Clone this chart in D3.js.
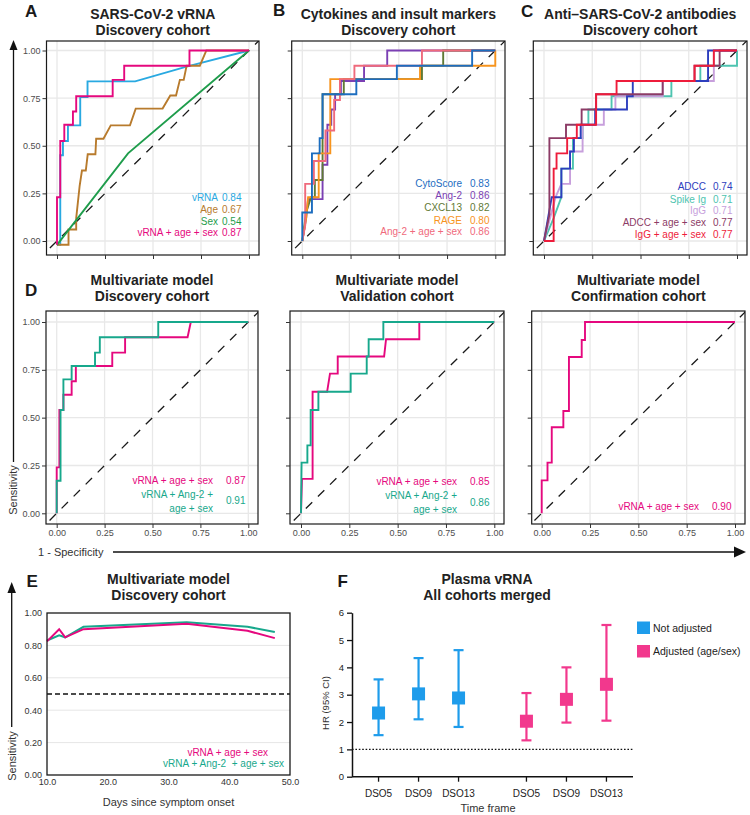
<!DOCTYPE html>
<html><head><meta charset="utf-8">
<script src="https://cdn.jsdelivr.net/npm/d3@7"></script>
<style>body{margin:0;background:#fff;} svg{display:block;font-family:"Liberation Sans",Arial,Helvetica,sans-serif;}</style>
</head><body><svg id="c" width="750" height="815"></svg>
<script>
// ---------------- DATA ----------------
const rocTicks = [0, 0.25, 0.5, 0.75, 1];

// Panel A: SARS-CoV-2 vRNA, discovery cohort  [1-specificity, sensitivity]
const aVRNA = [[0,-0.02],[0.017,-0.02],[0.017,0.45],[0.031,0.45],[0.031,0.525],[0.057,0.525],[0.057,0.607],[0.121,0.607],[0.121,0.756],[0.159,0.756],[0.159,0.838],[0.407,0.838],[0.675,0.915],[1,1]];
const aAge = [[0,-0.02],[0.06,-0.02],[0.06,0.06],[0.10,0.06],[0.10,0.12],[0.118,0.29],[0.13,0.37],[0.15,0.37],[0.16,0.455],[0.20,0.455],[0.204,0.537],[0.242,0.537],[0.28,0.607],[0.38,0.607],[0.41,0.695],[0.55,0.695],[0.59,0.764],[0.62,0.764],[0.64,0.846],[0.66,0.846],[0.675,0.92],[0.744,0.92],[0.778,1],[1,1]];
const aSex = [[0,-0.02],[0.37,0.46],[1,1]];
const aCombo = [[0,-0.02],[0,0.23],[0.017,0.23],[0.017,0.525],[0.038,0.525],[0.038,0.61],[0.083,0.61],[0.083,0.68],[0.10,0.68],[0.10,0.76],[0.29,0.76],[0.29,0.846],[0.35,0.846],[0.35,0.92],[0.69,0.92],[0.69,1],[1,1]];
const aLabels = ["vRNA", "Age", "Sex", "vRNA + age + sex"];
const aAUC = ["0.84", "0.67", "0.54", "0.87"];

// Panel B: cytokines and insult markers
const bCyto = [[0,0],[0,0.15],[0.05,0.15],[0.05,0.46],[0.09,0.46],[0.09,0.54],[0.105,0.54],[0.105,0.77],[0.28,0.77],[0.28,0.85],[0.49,0.85],[0.49,0.92],[0.88,0.92],[0.88,1],[1,1]];
const bAng2 = [[0,0],[0.02,0.12],[0.03,0.22],[0.105,0.22],[0.105,0.40],[0.13,0.40],[0.13,0.61],[0.15,0.61],[0.15,0.69],[0.17,0.69],[0.17,0.77],[0.2,0.77],[0.2,0.84],[0.32,0.84],[0.32,0.92],[0.44,0.92],[0.44,1],[1,1]];
const bCXCL13 = [[0,0],[0.02,0.15],[0.045,0.23],[0.065,0.23],[0.065,0.32],[0.105,0.32],[0.105,0.77],[0.215,0.77],[0.215,0.85],[0.62,0.85],[0.62,0.92],[0.73,0.92],[0.73,1],[1,1]];
const bRAGE = [[0,0],[0.02,0.12],[0.03,0.23],[0.085,0.23],[0.085,0.46],[0.145,0.46],[0.145,0.85],[0.61,0.85],[0.61,0.92],[1,0.92],[1,1]];
const bAngCombo = [[0,0],[0.015,0.08],[0.015,0.30],[0.06,0.30],[0.06,0.42],[0.12,0.42],[0.12,0.58],[0.165,0.58],[0.165,0.74],[0.195,0.74],[0.195,0.85],[0.27,0.85],[0.27,0.92],[0.62,0.92],[0.62,1],[1,1]];
const bLabels = ["CytoScore", "Ang-2", "CXCL13", "RAGE", "Ang-2 + age + sex"];
const bAUC = ["0.83", "0.86", "0.82", "0.80", "0.86"];

// Panel C: anti-SARS-CoV-2 antibodies
const cADCC = [[0,0],[0.04,0.23],[0.09,0.23],[0.09,0.38],[0.135,0.38],[0.135,0.47],[0.155,0.47],[0.155,0.54],[0.19,0.54],[0.19,0.61],[0.265,0.61],[0.265,0.69],[0.43,0.69],[0.43,0.76],[0.46,0.76],[0.46,0.84],[0.85,0.84],[0.85,1],[1,1]];
const cSpike = [[0,0],[0.05,0.12],[0.09,0.23],[0.09,0.38],[0.15,0.38],[0.15,0.54],[0.2,0.54],[0.2,0.61],[0.23,0.61],[0.23,0.69],[0.35,0.69],[0.35,0.76],[0.66,0.76],[0.66,0.84],[0.81,0.84],[0.81,0.92],[1,0.92],[1,1]];
const cIgG = [[0,0],[0.06,0.23],[0.09,0.30],[0.135,0.30],[0.135,0.47],[0.2,0.47],[0.2,0.61],[0.31,0.61],[0.31,0.69],[0.37,0.69],[0.37,0.76],[0.615,0.76],[0.615,0.84],[0.88,0.84],[0.88,1],[1,1]];
const cADCCcombo = [[0,0],[0.028,0.14],[0.028,0.54],[0.114,0.54],[0.114,0.61],[0.195,0.61],[0.195,0.69],[0.27,0.69],[0.27,0.77],[0.615,0.77],[0.615,0.84],[0.78,0.84],[0.78,0.92],[0.91,0.92],[0.91,1],[1,1]];
const cIgGcombo = [[0,0],[0.05,0],[0.05,0.38],[0.065,0.38],[0.065,0.46],[0.12,0.46],[0.12,0.54],[0.17,0.54],[0.17,0.61],[0.27,0.61],[0.27,0.77],[0.376,0.77],[0.376,0.84],[0.78,0.84],[0.78,0.92],[0.88,0.92],[0.88,1],[1,1]];
const cLabels = ["ADCC", "Spike Ig", "IgG", "ADCC + age + sex", "IgG + age + sex"];
const cAUC = ["0.74", "0.71", "0.71", "0.77", "0.77"];

// Panel D: multivariate, discovery / validation / confirmation
const dDiscCombo = [[0,0],[0,0.24],[0.014,0.24],[0.014,0.54],[0.035,0.54],[0.035,0.62],[0.078,0.62],[0.078,0.69],[0.10,0.69],[0.10,0.77],[0.29,0.77],[0.29,0.84],[0.357,0.84],[0.357,0.92],[0.683,0.92],[0.70,1],[1,1]];
const dDiscAng = [[0,0],[0,0.17],[0.02,0.17],[0.02,0.54],[0.035,0.54],[0.035,0.70],[0.078,0.70],[0.078,0.77],[0.20,0.77],[0.20,0.84],[0.225,0.84],[0.225,0.92],[0.53,0.92],[0.53,1],[1,1]];
const dValCombo = [[0,0],[0.005,0.18],[0.06,0.18],[0.06,0.635],[0.135,0.635],[0.15,0.73],[0.19,0.73],[0.19,0.82],[0.43,0.82],[0.44,0.91],[0.612,0.91],[0.612,1],[1,1]];
const dValAng = [[0,0],[0.003,0.265],[0.033,0.265],[0.033,0.355],[0.05,0.355],[0.05,0.54],[0.09,0.54],[0.09,0.635],[0.257,0.635],[0.257,0.73],[0.34,0.73],[0.34,0.82],[0.35,0.82],[0.35,0.91],[0.426,0.91],[0.426,1],[1,1]];
const dConfCombo = [[0,0],[0,0.172],[0.03,0.172],[0.03,0.265],[0.052,0.265],[0.052,0.45],[0.112,0.45],[0.112,0.535],[0.141,0.535],[0.141,0.817],[0.207,0.817],[0.207,0.906],[0.224,0.906],[0.224,1],[1,1]];
const dLabels = ["vRNA + age + sex", "vRNA + Ang-2 +\nage + sex"];
const dDiscAUC = ["0.87", "0.91"];
const dValAUC = ["0.85", "0.86"];
const dConfAUC = ["0.90"];

// Panel E: sensitivity over days since symptom onset
const eDays = [10, 12, 13, 16, 33, 43, 47.5];
const eCombo = [0.825, 0.90, 0.85, 0.90, 0.933, 0.89, 0.845];
const eAng = [0.83, 0.862, 0.85, 0.915, 0.943, 0.915, 0.883];
const eLabels = ["vRNA + age + sex", "vRNA + Ang-2  + age + sex"];
const eYTicks = [0, 0.2, 0.4, 0.6, 0.8, 1];
const eXTicks = [10, 20, 30, 40, 50];

// Panel F: hazard ratios
const fGroups = ["Not adjusted", "Adjusted (age/sex)"];
const fTimes = ["DSO5", "DSO9", "DSO13"];
const fHR_not = [2.33, 3.03, 2.88];
const fLo_not = [1.52, 2.10, 1.82];
const fHi_not = [3.56, 4.34, 4.63];
const fHR_adj = [2.03, 2.83, 3.38];
const fLo_adj = [1.33, 1.98, 2.05];
const fHi_adj = [3.06, 4.00, 5.55];
const fYTicks = [0, 1, 2, 3, 4, 5, 6];

// ---------------- COLOURS ----------------
const MAG = "#e5087e", TEAL = "#17a88c";
const aColors = ["#29a9e1", "#b87b2d", "#1f9d4c", MAG];
const bColors = ["#1c6dbf", "#7b3fb3", "#5f7a35", "#f7941d", "#ef6a7c"];
const cColors = ["#2d3ebe", "#4ec4b0", "#c79fdc", "#8c3b66", "#ee1c3b"];
const fColors = ["#1e9ceb", "#f2388d"];

// ---------------- DRAW ----------------
const svg = d3.select("#c");
svg.append("rect").attr("width", 750).attr("height", 815).attr("fill", "#fff");
const defs = svg.append("defs");

function txt(g, x, y, s, o = {}) {
  return g.append("text").attr("x", x).attr("y", y).text(s)
    .attr("font-size", o.size || 10).attr("fill", o.fill || "#222")
    .attr("font-weight", o.bold ? "bold" : null)
    .attr("text-anchor", o.anchor || "start")
    .style("white-space", "pre");
}

function rocPanel(p) {
  const x = d3.scaleLinear().domain([0, 1]).range([p.x0, p.x1]);
  const y = d3.scaleLinear().domain([0, 1]).range([p.y0, p.y1]);
  const [L, T, R, B] = p.frame;
  const g = svg.append("g");
  const id = "clip" + p.id;
  defs.append("clipPath").attr("id", id).append("rect").attr("x", L).attr("y", T).attr("width", R - L).attr("height", B - T);
  // grid
  g.selectAll(".gv").data(rocTicks).join("line").attr("x1", d => x(d)).attr("x2", d => x(d)).attr("y1", T).attr("y2", B)
    .attr("stroke", "#e8e8e8").attr("stroke-width", 1.3);
  g.selectAll(".gh").data(rocTicks).join("line").attr("y1", d => y(d)).attr("y2", d => y(d)).attr("x1", L).attr("x2", R)
    .attr("stroke", "#e8e8e8").attr("stroke-width", 1.3);
  // diagonal
  g.append("line").attr("clip-path", `url(#${id})`)
    .attr("x1", x(-0.1)).attr("y1", y(-0.1)).attr("x2", x(1.1)).attr("y2", y(1.1))
    .attr("stroke", "#1a1a1a").attr("stroke-width", 1.3).attr("stroke-dasharray", "9,8");
  const line = d3.line().x(d => x(d[0])).y(d => y(d[1]));
  p.series.forEach((s, i) => {
    g.append("path").attr("d", line(s)).attr("fill", "none").attr("stroke", p.colors[i])
      .attr("stroke-width", 1.9).attr("clip-path", `url(#${id})`);
  });
  g.append("rect").attr("x", L).attr("y", T).attr("width", R - L).attr("height", B - T)
    .attr("fill", "none").attr("stroke", "#1a1a1a").attr("stroke-width", 1.2);
  // axes
  const fmt = d3.format(".2f");
  const ya = d3.axisLeft(y).tickValues(rocTicks).tickSize(4).tickSizeOuter(0).tickPadding(2)
    .tickFormat(p.yLab ? fmt : () => "");
  const xa = d3.axisBottom(x).tickValues(rocTicks).tickSize(4).tickSizeOuter(0).tickPadding(2)
    .tickFormat(p.xLab ? fmt : () => "");
  [g.append("g").attr("transform", `translate(${L},0)`).call(ya),
   g.append("g").attr("transform", `translate(0,${B})`).call(xa)].forEach(a => {
    a.select(".domain").remove();
    a.selectAll("line").attr("stroke", "#333").attr("stroke-width", 1);
    a.selectAll("text").attr("font-size", 9).attr("fill", "#4d4d4d").attr("font-family", null);
  });
  // title
  const cx = (L + R) / 2;
  txt(g, cx, p.titleY[0], p.title[0], { size: 14, bold: true, anchor: "middle" });
  txt(g, cx, p.titleY[1], p.title[1], { size: 14, bold: true, anchor: "middle" });
  // legend
  p.labels.forEach((lab, i) => {
    const parts = lab.split("\n");
    const y0 = p.legY[i];
    parts.forEach((s, k) => txt(g, p.legR, y0 + k * 14.2, s, { size: 10, fill: p.colors[i], anchor: "end" }));
    const vy = y0 + (parts.length - 1) * 14.2 / 2 + (parts.length > 1 ? -0.5 : 0);
    txt(g, p.legV, vy, p.auc[i], { size: 10, fill: p.colors[i] });
  });
}

const row1Y = { y0: 241, y1: 50.5 }, row1F = [41, 255];
const row2Y = { y0: 513.3, y1: 322 }, row2F = [311, 524];

rocPanel({ id: "A", x0: 57, x1: 249, ...row1Y, frame: [46.5, row1F[0], 259, row1F[1]],
  series: [aVRNA, aAge, aSex, aCombo], colors: aColors, labels: aLabels, auc: aAUC,
  legR: 218, legV: 222, legY: [200.5, 212.5, 224.5, 236], yLab: true, xLab: false,
  title: ["SARS-CoV-2 vRNA", "Discovery cohort"], titleY: [19, 34.5] });
rocPanel({ id: "B", x0: 302.3, x1: 495.3, ...row1Y, frame: [291.7, row1F[0], 505, row1F[1]],
  series: [bAng2, bCXCL13, bRAGE, bAngCombo, bCyto], colors: [bColors[1], bColors[2], bColors[3], bColors[4], bColors[0]],
  labels: [bLabels[1], bLabels[2], bLabels[3], bLabels[4], bLabels[0]], auc: [bAUC[1], bAUC[2], bAUC[3], bAUC[4], bAUC[0]],
  legR: 462, legV: 470, legY: [199.3, 211, 223.5, 235.2, 187], yLab: false, xLab: false,
  title: ["Cytokines and insult markers", "Discovery cohort"], titleY: [19, 34.5] });
rocPanel({ id: "C", x0: 544, x1: 737, ...row1Y, frame: [533.3, row1F[0], 747, row1F[1]],
  series: [cSpike, cIgG, cADCC, cADCCcombo, cIgGcombo], colors: [cColors[1], cColors[2], cColors[0], cColors[3], cColors[4]],
  labels: [cLabels[1], cLabels[2], cLabels[0], cLabels[3], cLabels[4]], auc: [cAUC[1], cAUC[2], cAUC[0], cAUC[3], cAUC[4]],
  legR: 706, legV: 713, legY: [202.8, 214.3, 190.3, 226, 238], yLab: false, xLab: false,
  title: ["Anti\u2013SARS-CoV-2 antibodies", "Discovery cohort"], titleY: [19, 34.5] });

rocPanel({ id: "D", x0: 56.7, x1: 248.3, ...row2Y, frame: [46, row2F[0], 258, row2F[1]],
  series: [dDiscCombo, dDiscAng], colors: [MAG, TEAL], labels: dLabels, auc: dDiscAUC,
  legR: 213, legV: 226, legY: [483.5, 497.8], yLab: true, xLab: true,
  title: ["Multivariate model", "Discovery cohort"], titleY: [285, 301] });
rocPanel({ id: "V", x0: 301, x1: 494.3, ...row2Y, frame: [290, row2F[0], 504, row2F[1]],
  series: [dValCombo, dValAng], colors: [MAG, TEAL], labels: dLabels, auc: dValAUC,
  legR: 457, legV: 470, legY: [485.2, 499.2], yLab: false, xLab: true,
  title: ["Multivariate model", "Validation cohort"], titleY: [285, 301] });
rocPanel({ id: "W", x0: 541.7, x1: 735, ...row2Y, frame: [531.7, row2F[0], 745, row2F[1]],
  series: [dConfCombo], colors: [MAG], labels: [dLabels[0]], auc: dConfAUC,
  legR: 699, legV: 712, legY: [510.2], yLab: false, xLab: true,
  title: ["Multivariate model", "Confirmation cohort"], titleY: [285, 301] });

// panel letters
[["A", 25, 17], ["B", 273, 16], ["C", 521, 16.5], ["D", 25, 296], ["E", 26.5, 587], ["F", 337.5, 587]]
  .forEach(([s, x, y]) => txt(svg, x, y, s, { size: 17, bold: true, fill: "#1a1a1a" }));

// big arrows
function arrowHead(g, tipX, tipY, dir, len, wid) {
  let pts;
  if (dir === "up") pts = [[tipX, tipY], [tipX - wid / 2, tipY + len], [tipX + wid / 2, tipY + len]];
  else pts = [[tipX, tipY], [tipX - len, tipY - wid / 2], [tipX - len, tipY + wid / 2]];
  g.append("path").attr("d", "M" + pts.join("L") + "Z").attr("fill", "#111");
}
const ag = svg.append("g");
ag.append("line").attr("x1", 13.5).attr("x2", 13.5).attr("y1", 48).attr("y2", 462).attr("stroke", "#111").attr("stroke-width", 1.3);
arrowHead(ag, 13.5, 40, "up", 10, 8);
txt(ag, 0, 0, "Sensitivity", { size: 11, anchor: "middle", fill: "#333" }).attr("transform", "translate(16.5,490) rotate(-90)");
txt(ag, 38, 556, "1 - Specificity", { size: 11, fill: "#333" });
ag.append("line").attr("x1", 113).attr("x2", 736).attr("y1", 552).attr("y2", 552).attr("stroke", "#111").attr("stroke-width", 1.3);
arrowHead(ag, 746, 552, "right", 12, 11);

// ---------------- PANEL E ----------------
{
  const g = svg.append("g");
  const x = d3.scaleLinear().domain([10, 50]).range([47, 290]);
  const y = d3.scaleLinear().domain([0, 1]).range([775, 613]);
  g.selectAll(".eg").data(eYTicks.filter(d => d > 0 && d < 1)).join("line")
    .attr("x1", x(10)).attr("x2", x(50)).attr("y1", d => y(d)).attr("y2", d => y(d)).attr("stroke", "#e6e6e6").attr("stroke-width", 1);
  g.append("line").attr("x1", x(10)).attr("x2", x(50)).attr("y1", y(0.5)).attr("y2", y(0.5))
    .attr("stroke", "#111").attr("stroke-width", 1.3).attr("stroke-dasharray", "5,3");
  const line = d3.line().x((d, i) => x(eDays[i])).y(d => y(d));
  g.append("path").attr("d", line(eAng)).attr("fill", "none").attr("stroke", TEAL).attr("stroke-width", 2);
  g.append("path").attr("d", line(eCombo)).attr("fill", "none").attr("stroke", MAG).attr("stroke-width", 2);
  g.append("rect").attr("x", x(10)).attr("y", y(1)).attr("width", x(50) - x(10)).attr("height", y(0) - y(1))
    .attr("fill", "none").attr("stroke", "#1a1a1a").attr("stroke-width", 1.3);
  const ya = d3.axisLeft(y).tickValues(eYTicks).tickSize(0).tickPadding(5).tickFormat(d3.format(".2f"));
  const xa = d3.axisBottom(x).tickValues(eXTicks).tickSize(0).tickPadding(4).tickFormat(d3.format(".1f"));
  [g.append("g").attr("transform", `translate(${x(10)},0)`).call(ya),
   g.append("g").attr("transform", `translate(0,${y(0)})`).call(xa)].forEach(a => {
    a.select(".domain").remove();
    a.selectAll("text").attr("font-size", 9).attr("fill", "#333").attr("font-family", null);
  });
  txt(g, 168.5, 584, "Multivariate model", { size: 14, bold: true, anchor: "middle" });
  txt(g, 168.5, 600, "Discovery cohort", { size: 14, bold: true, anchor: "middle" });
  txt(g, 168.5, 806, "Days since symptom onset", { size: 11, anchor: "middle", fill: "#333" });
  txt(g, 268, 755.5, eLabels[0], { size: 10, anchor: "end", fill: MAG });
  txt(g, 284, 767, eLabels[1], { size: 10, anchor: "end", fill: TEAL });
  g.append("line").attr("x1", 11.7).attr("x2", 11.7).attr("y1", 590).attr("y2", 727).attr("stroke", "#111").attr("stroke-width", 1.3);
  arrowHead(g, 11.7, 582, "up", 11, 8.5);
  txt(g, 0, 0, "Sensitivity", { size: 11, anchor: "middle", fill: "#333" }).attr("transform", "translate(15.5,756) rotate(-90)");
}

// ---------------- PANEL F ----------------
{
  const g = svg.append("g");
  const y = d3.scaleLinear().domain([0, 6]).range([776.7, 612.7]);
  const outer = d3.scalePoint().domain(fGroups).range([352, 633]).padding(0.45);
  const inner = d3.scalePoint().domain(fTimes).range([-40, 40]);
  const xPos = (grp, t) => outer(grp) + inner(t);
  // reference line HR = 1
  g.append("line").attr("x1", 352).attr("x2", 633).attr("y1", y(1)).attr("y2", y(1))
    .attr("stroke", "#111").attr("stroke-width", 1.4).attr("stroke-dasharray", "1.6,1.8");
  // axes
  const ya = d3.axisLeft(y).tickValues(fYTicks).tickSize(5).tickPadding(3).tickSizeOuter(0).tickFormat(d3.format("d"));
  const yg = g.append("g").attr("transform", "translate(352,0)").call(ya);
  const xTickData = [];
  fGroups.forEach(gr => fTimes.forEach(t => xTickData.push({ gr, t })));
  const xg = g.append("g");
  xg.append("line").attr("x1", 352).attr("x2", 633).attr("y1", y(0)).attr("y2", y(0)).attr("stroke", "#111").attr("stroke-width", 1.5);
  xg.selectAll(".xt").data(xTickData).join("line").attr("x1", d => xPos(d.gr, d.t)).attr("x2", d => xPos(d.gr, d.t))
    .attr("y1", y(0)).attr("y2", y(0) + 5).attr("stroke", "#111").attr("stroke-width", 1.3);
  xg.selectAll(".xl").data(xTickData).join("text").attr("x", d => xPos(d.gr, d.t)).attr("y", 796.5)
    .attr("text-anchor", "middle").attr("font-size", 10).attr("fill", "#222").text(d => d.t);
  yg.select(".domain").attr("stroke", "#111").attr("stroke-width", 1.5);
  yg.selectAll("line").attr("stroke", "#111").attr("stroke-width", 1.3);
  yg.selectAll("text").attr("font-size", 9.5).attr("fill", "#222").attr("font-family", null);
  // error bars
  const series = [[fHR_not, fLo_not, fHi_not], [fHR_adj, fLo_adj, fHi_adj]];
  fGroups.forEach((gr, gi) => {
    const [hr, lo, hi] = series[gi];
    const col = fColors[gi];
    fTimes.forEach((t, i) => {
      const cx = xPos(gr, t);
      g.append("line").attr("x1", cx).attr("x2", cx).attr("y1", y(lo[i])).attr("y2", y(hi[i])).attr("stroke", col).attr("stroke-width", 2.2);
      [lo[i], hi[i]].forEach(v => g.append("line").attr("x1", cx - 5).attr("x2", cx + 5).attr("y1", y(v)).attr("y2", y(v)).attr("stroke", col).attr("stroke-width", 2.2));
      g.append("rect").attr("x", cx - 6.5).attr("y", y(hr[i]) - 6.5).attr("width", 13).attr("height", 13).attr("fill", col);
    });
    g.append("rect").attr("x", 637).attr("y", 621.5 + gi * 23.5).attr("width", 13).attr("height", 12.5).attr("fill", col);
    txt(g, 653, 631.8 + gi * 23.5, gr, { size: 10.5, fill: "#222" });
  });
  txt(g, 487, 584, "Plasma vRNA", { size: 14, bold: true, anchor: "middle" });
  txt(g, 487, 600, "All cohorts merged", { size: 14, bold: true, anchor: "middle" });
  txt(g, 488, 812, "Time frame", { size: 11, anchor: "middle", fill: "#333" });
  txt(g, 0, 0, "HR (95% CI)", { size: 9.5, anchor: "middle", fill: "#333" }).attr("transform", "translate(328.5,703) rotate(-90)");
}
</script></body></html>
